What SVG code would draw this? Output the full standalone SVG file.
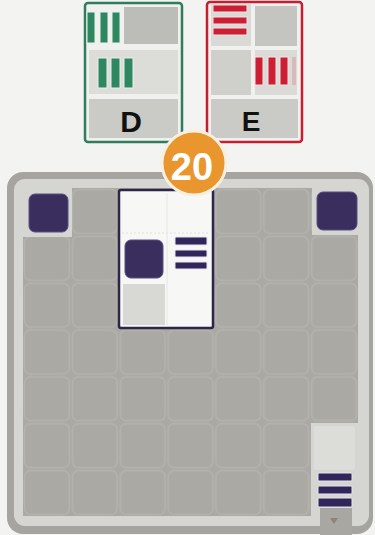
<svg xmlns="http://www.w3.org/2000/svg" width="375" height="535" viewBox="0 0 375 535">
<defs>
<style>
.sans{font-family:"Liberation Sans",Arial,sans-serif;font-weight:bold}
.pur{fill:#3a2e5f;stroke:#5a4f80;stroke-width:1}
.bar{fill:#30265a;stroke:#e6e4ee;stroke-width:1}
.gbar{fill:#2f8762;stroke:#e6efe9;stroke-width:1}
.rbar{fill:#cc1f33;stroke:#f3e4e6;stroke-width:1}
</style>
<pattern id="cells" patternUnits="userSpaceOnUse" x="23" y="188" width="47.86" height="46.86">
<rect x="1.5" y="1.5" width="44.8" height="43.8" rx="6" fill="none" stroke="#b4b3ae" stroke-width="1.4"/>
</pattern>
</defs>
<rect width="375" height="535" fill="#f3f3f1"/>
<g id="connectors"/>
<g id="board">
<rect x="7" y="172" width="366" height="362" rx="16" fill="#a5a4a0"/>
<rect x="14" y="179" width="355" height="347" rx="11" fill="#d5d5d2"/>
<path d="M72,188 H312 V235 H358 V423 H311 V516 H23 V237 H72 Z" fill="#aaa9a4"/>
<path d="M72,188 H312 V235 H358 V423 H311 V516 H23 V237 H72 Z" fill="url(#cells)"/>
<rect x="320" y="508" width="32" height="27" fill="#a8a7a2"/>
<polygon points="330,518 338,518 334,524" fill="#8d857c"/>
<rect x="314" y="426" width="41" height="44" rx="3" fill="#dcdcd9"/>
<rect class="pur" x="29" y="194" width="39" height="38" rx="6"/>
<rect class="pur" x="317" y="192" width="40" height="38" rx="6"/>
<rect class="bar" x="318" y="473" width="34" height="8" rx="1"/>
<rect class="bar" x="318" y="486" width="34" height="8" rx="1"/>
<rect class="bar" x="318" y="498" width="34" height="9" rx="1"/>
</g>
<g id="placed-card">
<rect x="119" y="190" width="94" height="138" rx="2" fill="#f7f7f5" stroke="#2e2548" stroke-width="2.5"/>
<line x1="122" y1="233" x2="210" y2="233" stroke="#e0e0dd" stroke-width="1" stroke-dasharray="2 2"/>
<line x1="167" y1="193" x2="167" y2="325" stroke="#e6e6e3" stroke-width="1"/>
<rect x="123" y="284" width="42" height="41" fill="#d8d8d5"/>
<rect class="pur" x="125" y="240" width="38" height="38" rx="6"/>
<rect class="bar" x="175" y="237" width="32" height="8" rx="1"/>
<rect class="bar" x="175" y="250" width="32" height="7" rx="1"/>
<rect class="bar" x="175" y="262" width="32" height="7" rx="1"/>
</g>
<g id="card-D">
<rect x="85" y="3" width="97" height="139" rx="3" fill="#f0f0ee" stroke="#2f7d5e" stroke-width="2.5"/>
<rect x="124" y="7" width="54" height="37" fill="#bcbcb8"/>
<rect x="89" y="50" width="89" height="44" fill="#dcdcd8"/>
<rect x="89" y="99" width="89" height="39" fill="#cacac6"/>
<rect class="gbar" x="87" y="12" width="8" height="31"/>
<rect class="gbar" x="100" y="12" width="8" height="31"/>
<rect class="gbar" x="112" y="12" width="8" height="31"/>
<rect class="gbar" x="98" y="58" width="9" height="30"/>
<rect class="gbar" x="111" y="58" width="9" height="30"/>
<rect class="gbar" x="124" y="58" width="9" height="30"/>
<text class="sans" x="131" y="132" font-size="30" text-anchor="middle" fill="#111">D</text>
</g>
<g id="card-E">
<rect x="207" y="2" width="95" height="140" rx="3" fill="#f0f0ee" stroke="#c41f30" stroke-width="2.5"/>
<rect x="211" y="4" width="40" height="42" fill="#d9d9d6"/>
<rect x="255" y="6" width="42" height="40" fill="#c4c4c0"/>
<rect x="211" y="50" width="40" height="45" fill="#cfcfcb"/>
<rect x="255" y="50" width="42" height="45" fill="#dadad7"/>
<rect x="211" y="99" width="87" height="39" fill="#cacac6"/>
<rect class="rbar" x="213" y="5" width="34" height="7"/>
<rect class="rbar" x="213" y="17" width="34" height="7"/>
<rect class="rbar" x="213" y="28" width="34" height="7"/>
<rect class="rbar" x="255" y="57" width="8" height="28"/>
<rect class="rbar" x="268" y="57" width="8" height="28"/>
<rect class="rbar" x="280" y="57" width="8" height="28"/>
<rect x="292" y="57" width="4" height="28" fill="#d9b9bb"/>
<text class="sans" x="251" y="131" font-size="28" text-anchor="middle" fill="#111">E</text>
</g>
<g id="badge-20">
<circle cx="194" cy="163" r="32" fill="#e9962f" stroke="#f7efe0" stroke-width="3"/>
<text class="sans" x="192" y="180" font-size="38" text-anchor="middle" fill="#ffffff">20</text>
</g>
</svg>
